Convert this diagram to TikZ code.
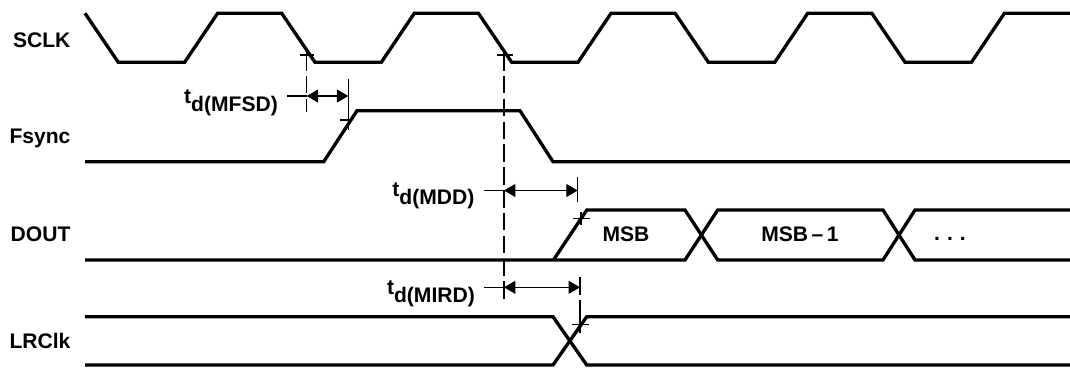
\documentclass[tikz,border=0pt]{standalone}
\usepackage{fontspec}
\setmainfont{Liberation Sans}
\usetikzlibrary{arrows.meta,positioning}

\begin{document}
\begin{tikzpicture}[x=0.02cm, y=-0.02cm,
    wave/.style={line width=1.9pt},
    thinline/.style={line width=0.6pt},
    guide/.style={line width=0.6pt, dash pattern=on 10pt off 3pt},
    dim/.style={line width=0.6pt, {Triangle[length=6.5pt,width=7.4pt]}-{Triangle[length=6.5pt,width=7.4pt]}},
    sig/.style={anchor=base east, inner sep=0pt, font=\fontsize{12}{14}\selectfont\bfseries},
    lbl/.style={anchor=base, inner sep=0pt, font=\fontsize{12}{14}\selectfont\bfseries},
    tlbl/.style={anchor=base east, inner xsep=5pt, inner ysep=0pt, font=\fontsize{12}{14}\selectfont\bfseries}]
  \useasboundingbox (0,0) rectangle (1070,370);

  % SCLK
  \node[sig] (sclk) at (70.8,47.5) {SCLK};
  \draw[wave] (85,13.3) -- (118.3,62.3) -- (184.6,62.3) -- (217.6,13.3) -- (281.7,13.3) -- (315,62.3)
    -- (381.3,62.3) -- (414.3,13.3) -- (478.4,13.3) -- (511.7,62.3) -- (578,62.3) -- (611,13.3)
    -- (675.1,13.3) -- (708.4,62.3) -- (774.7,62.3) -- (807.7,13.3) -- (871.8,13.3) -- (905.1,62.3)
    -- (971.4,62.3) -- (1004.4,13.3) -- (1070,13.3);

  % Fsync
  \node[sig] (fsync) at (70.8,143.5) {Fsync};
  \draw[wave] (85,161.7) -- (323.7,161.7) -- (357,110.7) -- (520,110.7) -- (553,161.7) -- (1070,161.7);

  % DOUT
  \node[sig] (dout) at (70.8,241.7) {DOUT};
  \draw[wave] (85,260) -- (685,260) -- (717.7,210) -- (883,210) -- (915,260) -- (1070,260);
  \draw[wave] (553.4,260) -- (586.8,210) -- (685,210) -- (717.7,260) -- (883,260) -- (915,210) -- (1070,210);
  \node[lbl] (msb) at (626,241.7) {MSB};
  \node[lbl] (msb1) at (800,241.7) {MSB\,–\,1};
  \node[lbl] (more) at (950,240) {.\hspace{4pt}.\hspace{4pt}.};

  % LRClk
  \node[sig] (lrclk) at (70.8,348.3) {LRClk};
  \draw[wave] (85,316.7) -- (553,316.7) -- (586.7,365) -- (1070,365);
  \draw[wave] (85,365) -- (553,365) -- (586.7,316.7) -- (1070,316.7);

  % reference lines and crossing ticks
  \draw[guide] (306.7,53) -- (306.7,112);
  \draw[guide] (504,53) -- (504,302);
  \draw[thinline] (348.3,79.3) -- (348.3,130);
  \draw[thinline] (577.7,176.7) -- (577.7,201.7);
  \draw[thinline] (581,211.7) -- (581,225);
  \draw[thinline] (580,276.7) -- (580,295);
  \draw[thinline] (580,300) -- (580,333.3);
  \draw[thinline] (299.7,55) -- (313.7,55);
  \draw[thinline] (496.5,55) -- (512.5,55);
  \draw[thinline] (340,120) -- (352,120);
  \draw[thinline] (573,218.3) -- (590,218.3);
  \draw[thinline] (571.7,324.3) -- (589.3,324.3);

  % delay t_d(MFSD)
  \coordinate (fsdA) at (306.7,96);
  \coordinate (fsdB) at (348.3,96);
  \node[tlbl] (lfsd) at (287,103) {t\raisebox{-4.6pt}{d(MFSD)}};
  \draw[thinline] (lfsd.east |- fsdA) -- (fsdA);
  \draw[dim] (fsdA) -- (fsdB);

  % delay t_d(MDD)
  \coordinate (mddA) at (504,190.5);
  \coordinate (mddB) at (577.7,190.5);
  \node[tlbl] (lmdd) at (483.5,196) {t\raisebox{-4.6pt}{d(MDD)}};
  \draw[thinline] (lmdd.east |- mddA) -- (mddA);
  \draw[dim] (mddA) -- (mddB);

  % delay t_d(MIRD)
  \coordinate (mirdA) at (504,287.3);
  \coordinate (mirdB) at (580,287.3);
  \node[tlbl] (lmird) at (484,294) {t\raisebox{-4.6pt}{d(MIRD)}};
  \draw[thinline] (lmird.east |- mirdA) -- (mirdA);
  \draw[dim] (mirdA) -- (mirdB);
\end{tikzpicture}
\end{document}
